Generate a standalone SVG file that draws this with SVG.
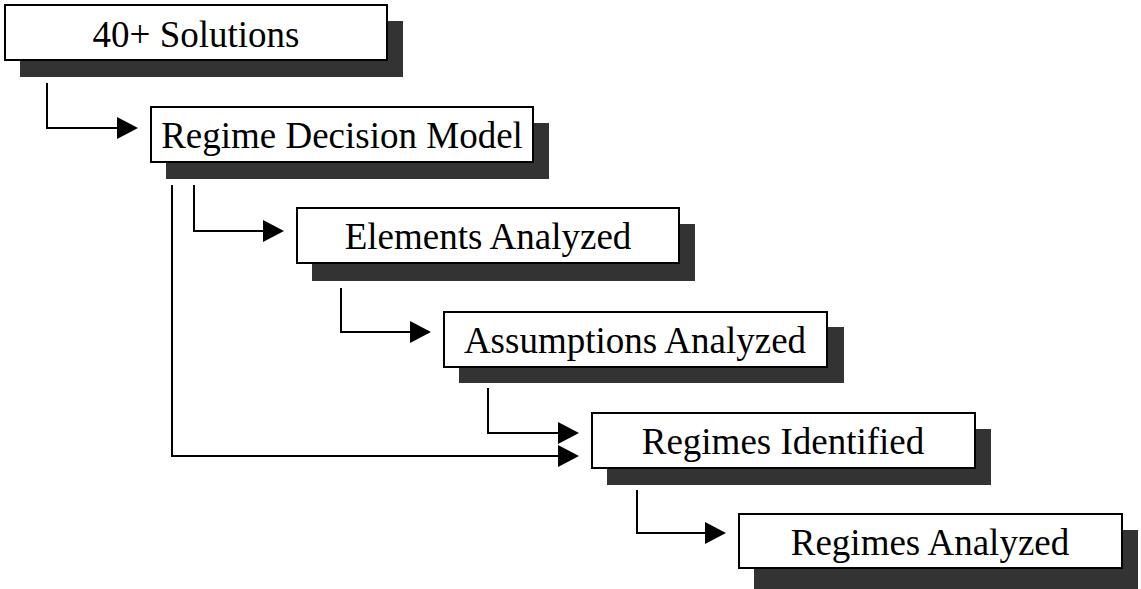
<svg xmlns="http://www.w3.org/2000/svg" width="1141" height="589" viewBox="0 0 1141 589">
<style>
.shadow{fill:#333333;stroke:none}
.box{fill:#ffffff;stroke:#000000;stroke-width:2}
.lbl{font-family:"Liberation Serif","Times New Roman",serif;font-size:37px;fill:#000000;text-anchor:middle}
.conn{fill:none;stroke:#000000;stroke-width:2}
</style>
<defs>
<marker id="arrow" viewBox="0 0 21 22" refX="11" refY="11" markerWidth="21" markerHeight="22" markerUnits="userSpaceOnUse" orient="auto">
<path d="M0,0 L21,11 L0,22 Z" fill="#000000"/>
</marker>
</defs>
<rect width="1141" height="589" fill="#ffffff"/>
<g id="connectors">
<path class="conn" d="M47,83 V128 H128" marker-end="url(#arrow)"/>
<path class="conn" d="M194,185 V231 H274" marker-end="url(#arrow)"/>
<path class="conn" d="M341,288 V332 H421" marker-end="url(#arrow)"/>
<path class="conn" d="M488,388 V433 H569" marker-end="url(#arrow)"/>
<path class="conn" d="M172,185 V456 H569" marker-end="url(#arrow)"/>
<path class="conn" d="M637,490 V533 H716" marker-end="url(#arrow)"/>
</g>
<g id="node1">
<rect class="shadow" x="20" y="21" width="383" height="56"/>
<rect class="box" x="5" y="5" width="382" height="55"/>
<text class="lbl" x="196" y="47">40+ Solutions</text>
</g>
<g id="node2">
<rect class="shadow" x="166" y="123" width="383" height="56"/>
<rect class="box" x="151" y="107" width="382" height="55"/>
<text class="lbl" x="342" y="148">Regime Decision Model</text>
</g>
<g id="node3">
<rect class="shadow" x="312" y="224" width="383" height="57"/>
<rect class="box" x="297" y="208" width="382" height="55"/>
<text class="lbl" x="488" y="249">Elements Analyzed</text>
</g>
<g id="node4">
<rect class="shadow" x="459" y="327" width="385" height="56"/>
<rect class="box" x="444" y="312" width="383" height="55"/>
<text class="lbl" x="635" y="353">Assumptions Analyzed</text>
</g>
<g id="node5">
<rect class="shadow" x="607" y="429" width="384" height="56"/>
<rect class="box" x="592" y="413" width="383" height="55"/>
<text class="lbl" x="783" y="454">Regimes Identified</text>
</g>
<g id="node6">
<rect class="shadow" x="754" y="530" width="384" height="59"/>
<rect class="box" x="739" y="514" width="383" height="54"/>
<text class="lbl" x="930" y="555">Regimes Analyzed</text>
</g>
</svg>
